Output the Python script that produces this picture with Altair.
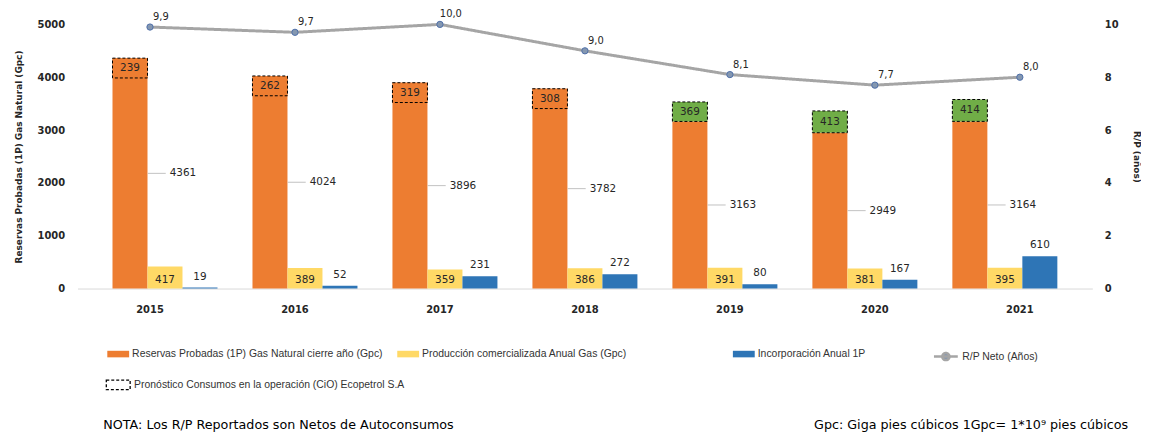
import altair as alt
import pandas as pd

# ---------------- data ----------------
anios = [2015, 2016, 2017, 2018, 2019, 2020, 2021]
reservas = [4361, 4024, 3896, 3782, 3163, 2949, 3164]
produccion = [417, 389, 359, 386, 391, 381, 395]
incorporacion = [19, 52, 231, 272, 80, 167, 610]
cio = [239, 262, 319, 308, 369, 413, 414]
cio_apilado = [False, False, False, False, True, True, True]
rp_neto = [9.9, 9.7, 10.0, 9.0, 8.1, 7.7, 8.0]

serie_nombres = [
    "Reservas Probadas (1P) Gas Natural cierre año (Gpc)",
    "Producción comercializada Anual Gas (Gpc)",
    "Incorporación Anual 1P",
]
serie_codigos = ["R", "P", "I"]
serie_colores = ["#ED7D31", "#FFD966", "#2E75B6"]
cio_nombre = "Pronóstico Consumos en la operación (CiO) Ecopetrol S.A"
rp_nombre = "R/P Neto (Años)"
nota_izq = "NOTA: Los R/P Reportados son Netos de Autoconsumos"
nota_der = "Gpc: Giga pies cúbicos 1Gpc= 1*10⁹ pies cúbicos"

# ---------------- tables ----------------
rows = []
for i, a in enumerate(anios):
    for nombre, cod, vals in zip(serie_nombres, serie_codigos, [reservas, produccion, incorporacion]):
        rows.append({"anio": str(a), "key": f"{a}_{cod}", "serie": nombre, "cod": cod,
                     "valor": vals[i], "mid": vals[i] / 2, "base": 0})
df_bars = pd.DataFrame(rows)

xdom = []
for a in anios:
    xdom += [f"{a}_gap", f"{a}_R", f"{a}_P", f"{a}_I"]
xdom.append("end_gap")

BOX_H = 375  # label-box height (data units) for non-stacked CiO boxes
box_rows = []
for i, a in enumerate(anios):
    if cio_apilado[i]:
        lo, hi = reservas[i], reservas[i] + cio[i]
    else:
        lo, hi = reservas[i] - BOX_H, reservas[i]
    box_rows.append({"key": f"{a}_R", "lo": lo, "hi": hi, "c": (lo + hi) / 2,
                     "cio": cio[i], "apilado": cio_apilado[i], "leyenda": cio_nombre})
df_box = pd.DataFrame(box_rows)

df_rp = pd.DataFrame({"anio": [str(a) for a in anios], "rp": rp_neto, "leyenda": rp_nombre})

FONT = "DejaVu Sans"
LEG_FONT = "Liberation Sans"
TXT = "#262626"

xb = alt.X("key:N", scale=alt.Scale(type="band", domain=xdom, paddingInner=0, paddingOuter=0), axis=None)
yl_scale = alt.Scale(domain=[0, 5000], nice=False)

legend_common = dict(title=None, orient="none", labelFont=LEG_FONT, labelFontSize=10.5,
                     labelColor="#333333", labelOffset=3, labelLimit=0)

bar_path = "M-1,-0.3H1V0.3H-1Z"
box_path = "M-1,-0.4H1V0.4H-1Z"
line_path = "M-1,0H1M0.3,0A0.3,0.3,0,1,1,-0.3,0A0.3,0.3,0,1,1,0.3,0Z"
bar_leg = dict(symbolType=bar_path, symbolSize=484, symbolStrokeWidth=0, **legend_common)

left_axis = alt.Axis(orient="left", values=[0, 1000, 2000, 3000, 4000, 5000], format="d",
                     title="Reservas Probadas (1P) Gas Natural (Gpc)",
                     titleFont=FONT, titleFontSize=9, titleFontWeight="bold", titleColor=TXT,
                     labelFont=FONT, labelFontSize=10, labelFontWeight="bold", labelColor=TXT,
                     grid=False, domain=False, ticks=False, labelPadding=13, titlePadding=14)

bars_r = alt.Chart(df_bars[df_bars.cod == "R"]).mark_bar().encode(
    x=xb,
    y=alt.Y("valor:Q", scale=yl_scale, axis=left_axis),
    color=alt.Color("serie:N", scale=alt.Scale(domain=[serie_nombres[0]], range=[serie_colores[0]]),
                    legend=alt.Legend(legendX=30, legendY=321, **bar_leg)),
)
bars_p = alt.Chart(df_bars[df_bars.cod == "P"]).mark_bar().encode(
    x=xb,
    y=alt.Y("valor:Q", scale=yl_scale),
    fill=alt.Fill("serie:N", scale=alt.Scale(domain=[serie_nombres[1]], range=[serie_colores[1]]),
                  legend=alt.Legend(legendX=322, legendY=321, **bar_leg)),
)
bars_i = alt.Chart(df_bars[df_bars.cod == "I"]).mark_bar(color=serie_colores[2]).encode(
    x=xb,
    y=alt.Y("valor:Q", scale=yl_scale),
    opacity=alt.Opacity("serie:N", scale=alt.Scale(domain=[serie_nombres[2]], range=[1]),
                        legend=alt.Legend(legendX=660, legendY=321,
                                          symbolFillColor=serie_colores[2], **bar_leg)),
)

boxes_fill = alt.Chart(df_box).mark_bar(strokeWidth=0).encode(
    x=xb,
    y=alt.Y("lo:Q", scale=yl_scale),
    y2="hi:Q",
    fill=alt.condition("datum.apilado", alt.value("#70AD47"), alt.value("#ED7D31")),
)
boxes_line = alt.Chart(df_box).mark_bar(fill="transparent", strokeDash=[3, 2], strokeWidth=1).encode(
    x=xb,
    y=alt.Y("lo:Q", scale=yl_scale),
    y2="hi:Q",
    stroke=alt.Stroke("leyenda:N", scale=alt.Scale(domain=[cio_nombre], range=["#000000"]),
                      legend=alt.Legend(legendX=28, legendY=350, symbolType=box_path, symbolSize=576,
                                        symbolFillColor="#FFFFFF", symbolDash=[3, 2],
                                        symbolStrokeWidth=1.3, **legend_common)),
)

box_txt = alt.Chart(df_box).mark_text(font=FONT, fontSize=10.5, color=TXT, baseline="middle").encode(
    x=xb, y=alt.Y("c:Q", scale=yl_scale), text="cio:Q")

res_df = df_bars[df_bars.cod == "R"]
res_txt = alt.Chart(res_df).mark_text(font=FONT, fontSize=10.5, color=TXT, align="left",
                                      baseline="middle", dx=40).encode(
    x=xb, y=alt.Y("mid:Q", scale=yl_scale), text="valor:Q")
res_lead = alt.Chart(res_df).mark_tick(size=18, thickness=1, xOffset=27, color="#A6A6A6").encode(
    x=xb, y=alt.Y("mid:Q", scale=yl_scale))

prod_txt = alt.Chart(df_bars[df_bars.cod == "P"]).mark_text(
    font=FONT, fontSize=10.5, color=TXT, baseline="middle", dy=-9).encode(
    x=xb, y=alt.Y("base:Q", scale=yl_scale), text="valor:Q")

inc_txt = alt.Chart(df_bars[df_bars.cod == "I"]).mark_text(
    font=FONT, fontSize=10.5, color=TXT, baseline="middle", dy=-11).encode(
    x=xb, y=alt.Y("valor:Q", scale=yl_scale), text="valor:Q")

note_l = alt.Chart(pd.DataFrame({"t": [nota_izq]})).mark_text(
    font=FONT, fontSize=12.8, color="#000000", align="left", baseline="middle").encode(
    x=alt.value(26), y=alt.value(403), text="t:N")
note_r = alt.Chart(pd.DataFrame({"t": [nota_der]})).mark_text(
    font=FONT, fontSize=12.8, color="#000000", align="right", baseline="middle").encode(
    x=alt.value(1058), y=alt.value(403), text="t:N")

left = alt.layer(bars_r, bars_p, bars_i, boxes_fill, boxes_line, box_txt, res_lead, res_txt,
                 prod_txt, inc_txt, note_l, note_r)

# ---------------- R/P line ----------------
xl = alt.X("anio:N", scale=alt.Scale(type="band", paddingInner=0, paddingOuter=0),
           axis=alt.Axis(orient="bottom", title=None, labelAngle=0, labelFont=FONT, labelFontSize=10,
                         labelFontWeight="bold", labelColor=TXT, labelPadding=16, ticks=False,
                         domainColor="#D9D9D9", domainWidth=1, grid=False))
yr_scale = alt.Scale(domain=[0, 10], nice=False)

line = alt.Chart(df_rp).mark_line(color="#A5A5A5", strokeWidth=3).encode(
    x=xl,
    y=alt.Y("rp:Q", scale=yr_scale,
            axis=alt.Axis(orient="right", values=[0, 2, 4, 6, 8, 10], title="R/P (años)",
                          titleFont=FONT, titleFontSize=9, titleFontWeight="bold", titleColor=TXT,
                          labelFont=FONT, labelFontSize=10, labelFontWeight="bold", labelColor=TXT,
                          grid=False, domain=False, ticks=False, labelPadding=12, titlePadding=14)),
    strokeDash=alt.StrokeDash("leyenda:N", scale=alt.Scale(domain=[rp_nombre], range=[[1, 0]]),
                              legend=alt.Legend(legendX=861, legendY=321, symbolType=line_path,
                                                symbolSize=576, symbolStrokeColor="#A5A5A5",
                                                symbolFillColor="#8497B0", symbolStrokeWidth=2.5,
                                                **legend_common)),
)
pts = alt.Chart(df_rp).mark_point(filled=True, shape="circle", size=40, fill="#8497B0",
                                  stroke="#4F6FA8", strokeWidth=1, opacity=1).encode(
    x=xl, y=alt.Y("rp:Q", scale=yr_scale))
rp_txt = alt.Chart(df_rp).transform_calculate(
    lab="replace(format(datum.rp, '.1f'), '.', ',')"
).mark_text(font=FONT, fontSize=10, color=TXT, dx=11, dy=-10).encode(
    x=xl, y=alt.Y("rp:Q", scale=yr_scale), text="lab:N")

right = alt.layer(line, pts, rp_txt)

chart = alt.layer(left, right).resolve_scale(x="independent", y="independent").properties(
    width=1022, height=266,
    autosize=alt.AutoSizeParams(type="none"),
    padding={"left": 70, "top": 15, "right": 49, "bottom": 147},
).configure_view(stroke=None)

chart.save("out.html", embed_options={"renderer": "svg", "actions": False})
